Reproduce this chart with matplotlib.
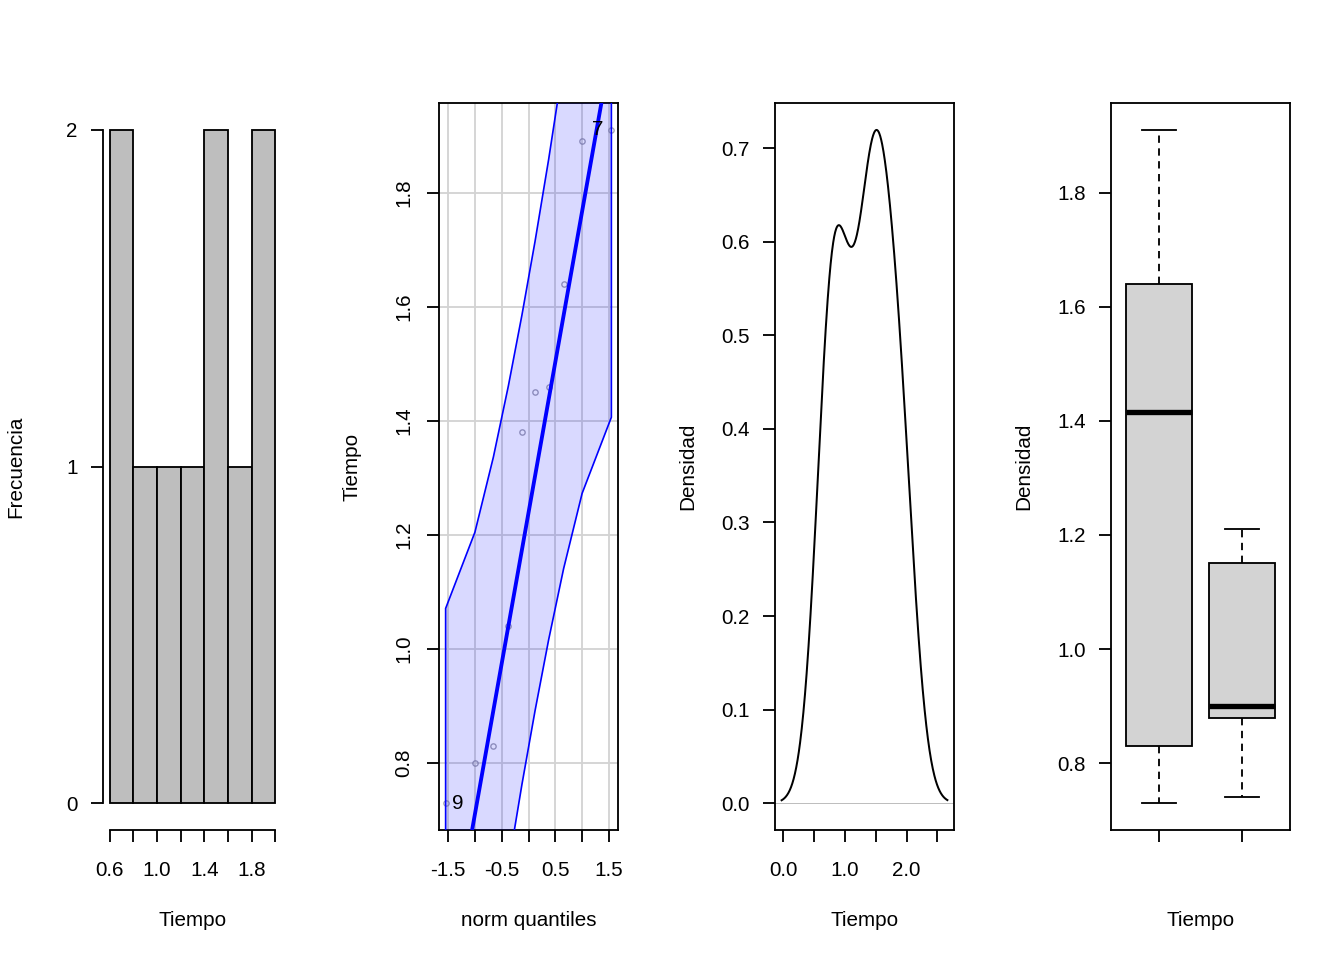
import numpy as np
import matplotlib.pyplot as plt
from statistics import NormalDist

plt.rcParams['font.family'] = ['Liberation Sans', 'DejaVu Sans']
plt.rcParams['font.size'] = 12.4

# observed times (sorted); obs 9 is the minimum, obs 7 the maximum
tiempo = [0.73, 0.80, 0.83, 1.04, 1.38, 1.45, 1.46, 1.64, 1.89, 1.91]
id_min, id_max = "9", "7"

hist_edges = [0.6, 0.8, 1.0, 1.2, 1.4, 1.6, 1.8, 2.0]
hist_counts = [2, 1, 1, 1, 2, 1, 2]

# boxplot stats: whislo, q1, med, q3, whishi
box1 = [0.73, 0.83, 1.415, 1.64, 1.91]
box2 = [0.74, 0.88, 0.90, 1.15, 1.21]

FIG_W, FIG_H = 1344, 960
PLOT_W, PLOT_H = 179, 727


def make_axes(fig, i):
    left = (103 + 336 * i) / FIG_W
    return fig.add_axes([left, 130 / FIG_H, PLOT_W / FIG_W, PLOT_H / FIG_H])


def style(ax, xlabel, ylabel, rot_y=False):
    for s in ax.spines.values():
        s.set_linewidth(1.1)
    ax.tick_params(direction='out', length=7.2, width=1.1, color='black')
    ax.tick_params(axis='x', pad=11.5)
    ax.tick_params(axis='y', pad=8)
    if rot_y:
        for t in ax.get_yticklabels():
            t.set_rotation(90)
            t.set_va('center')
    ax.set_xlabel(xlabel)
    ax.set_ylabel(ylabel)
    ax.xaxis.set_label_coords(0.5, -91 / PLOT_H)
    ax.xaxis.label.set_va('center')
    ax.yaxis.set_label_coords(-87 / PLOT_W, 0.5)
    ax.yaxis.label.set_va('center')


def pad_lim(lo, hi, f=0.04):
    d = (hi - lo) * f
    return lo - d, hi + d


fig = plt.figure(figsize=(FIG_W / 120, FIG_H / 120), dpi=120)

# ---- histogram
ax1 = make_axes(fig, 0)
lefts = hist_edges[:-1]
widths = np.diff(hist_edges)
ax1.bar(lefts, hist_counts, width=widths, align='edge', color='#BEBEBE',
        edgecolor='black', linewidth=1.1)
ax1.set_xlim(pad_lim(hist_edges[0], hist_edges[-1]))
ax1.set_ylim(pad_lim(0, max(hist_counts)))
ax1.set_xticks(hist_edges)
ax1.set_xticklabels(['0.6', '', '1.0', '', '1.4', '', '1.8', ''])
ax1.set_yticks([0, 1, 2])
ax1.spines['top'].set_visible(False)
ax1.spines['right'].set_visible(False)
ax1.spines['left'].set_bounds(0, max(hist_counts))
ax1.spines['bottom'].set_bounds(hist_edges[0], hist_edges[-1])
style(ax1, 'Tiempo', 'Frecuencia')

# ---- qq plot (car::qqPlot style)
ax2 = make_axes(fig, 1)
x = np.array(tiempo)
n = len(x)
a = 3 / 8 if n <= 10 else 0.5
P = (np.arange(1, n + 1) - a) / (n + 1 - 2 * a)
nd = NormalDist()
z = np.array([nd.inv_cdf(p) for p in P])
dz = np.array([nd.pdf(v) for v in z])
qx = np.quantile(x, [0.25, 0.75])
qz = np.array([nd.inv_cdf(0.25), nd.inv_cdf(0.75)])
b = (qx[1] - qx[0]) / (qz[1] - qz[0])
a0 = qx[0] - b * qz[0]
fit = a0 + b * z
se = (b / dz) * np.sqrt(P * (1 - P) / n)
zz = nd.inv_cdf(0.975)
upper = fit + zz * se
lower = fit - zz * se

ax2.set_xlim(pad_lim(z.min(), z.max()))
ax2.set_ylim(pad_lim(x.min(), x.max()))
qx_ticks = [-1.5, -1.0, -0.5, 0.0, 0.5, 1.0, 1.5]
qy_ticks = [0.8, 1.0, 1.2, 1.4, 1.6, 1.8]
ax2.set_xticks(qx_ticks)
ax2.set_xticklabels(['-1.5', '', '-0.5', '', '0.5', '', '1.5'])
ax2.set_yticks(qy_ticks)
ax2.set_yticklabels(['%.1f' % v for v in qy_ticks])
for v in qx_ticks:
    ax2.axvline(v, color='#D3D3D3', lw=1.1, zorder=0)
for v in qy_ticks:
    ax2.axhline(v, color='#D3D3D3', lw=1.1, zorder=0)
ax2.plot(z, x, 'o', ms=3.2, mfc='none', mec='#8c8c9c', mew=0.8, alpha=0.8, zorder=2)
ax2.fill(np.r_[z, z[::-1]], np.r_[upper, lower[::-1]], facecolor=(0, 0, 1, 0.15),
         edgecolor='blue', linewidth=1.0, zorder=3)
xl = np.array(ax2.get_xlim())
ax2.plot(xl, a0 + b * xl, color='blue', lw=2.3, zorder=4)
ax2.annotate(id_min, (z[0], x[0]), xytext=(4, 0), textcoords='offset points',
             ha='left', va='center', zorder=5)
ax2.annotate(id_max, (z[-1], x[-1]), xytext=(-5, 0), textcoords='offset points',
             ha='right', va='center', zorder=5)
style(ax2, 'norm quantiles', 'Tiempo', rot_y=True)

# ---- density (gaussian kernel, bw.nrd0)
ax3 = make_axes(fig, 2)
iqr = np.subtract(*np.quantile(x, [0.75, 0.25]))
bw = 0.9 * min(x.std(ddof=1), iqr / 1.34) * n ** -0.2
grid = np.linspace(x.min() - 3 * bw, x.max() + 3 * bw, 512)
dens = np.exp(-0.5 * ((grid[:, None] - x[None, :]) / bw) ** 2).sum(1) / (n * bw * np.sqrt(2 * np.pi))
ax3.axhline(0, color='#BEBEBE', lw=0.6, zorder=1)
ax3.plot(grid, dens, color='black', lw=1.2, zorder=2)
ax3.set_xlim(pad_lim(grid.min(), grid.max()))
ax3.set_ylim(pad_lim(0, dens.max()))
ax3.set_xticks([0.0, 0.5, 1.0, 1.5, 2.0, 2.5])
ax3.set_xticklabels(['0.0', '', '1.0', '', '2.0', ''])
dy_ticks = [0.0, 0.1, 0.2, 0.3, 0.4, 0.5, 0.6, 0.7]
ax3.set_yticks(dy_ticks)
ax3.set_yticklabels(['%.1f' % v for v in dy_ticks])
style(ax3, 'Tiempo', 'Densidad')

# ---- boxplots
ax4 = make_axes(fig, 3)
stats = []
for s in (box1, box2):
    stats.append(dict(whislo=s[0], q1=s[1], med=s[2], q3=s[3], whishi=s[4], fliers=[]))
ax4.bxp(stats, positions=[1, 2], widths=0.8, capwidths=0.4, patch_artist=True,
        manage_ticks=False,
        boxprops=dict(facecolor='#D3D3D3', edgecolor='black', linewidth=1.1),
        medianprops=dict(color='black', linewidth=3.2, solid_capstyle='butt'),
        whiskerprops=dict(color='black', linewidth=1.1, linestyle=(0, (4, 3))),
        capprops=dict(color='black', linewidth=1.1))
ax4.set_xlim(pad_lim(0.5, 2.5))
ax4.set_ylim(pad_lim(min(box1[0], box2[0]), max(box1[4], box2[4])))
ax4.set_xticks([1, 2])
ax4.set_xticklabels(['', ''])
by_ticks = [0.8, 1.0, 1.2, 1.4, 1.6, 1.8]
ax4.set_yticks(by_ticks)
ax4.set_yticklabels(['%.1f' % v for v in by_ticks])
style(ax4, 'Tiempo', 'Densidad')

fig.savefig('out.png', dpi=120)
